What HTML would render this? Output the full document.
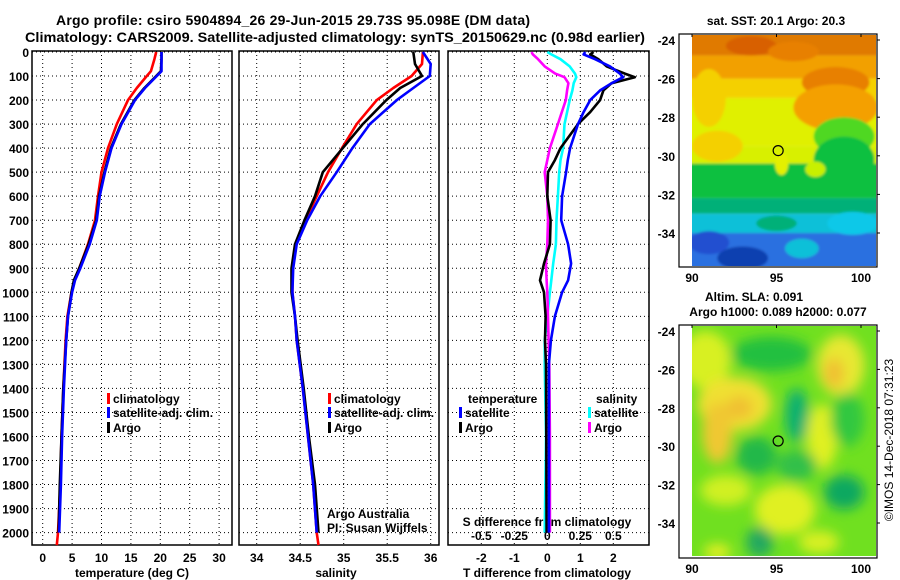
<!DOCTYPE html>
<html><head><meta charset="utf-8"><style>
body{margin:0;background:#fff;width:900px;height:580px;overflow:hidden}
svg{display:block;font-family:"Liberation Sans",sans-serif}
.b{font-weight:bold;font-size:12px}
</style></head><body>
<svg id="s" width="900" height="580" xmlns="http://www.w3.org/2000/svg">
<defs>
<filter id="bl" x="-20%" y="-20%" width="140%" height="140%"><feGaussianBlur stdDeviation="6"/></filter>
<filter id="bl2"><feGaussianBlur stdDeviation="1.2"/></filter>
<clipPath id="c1"><rect x="692" y="35" width="184" height="231"/></clipPath>
<clipPath id="c2"><rect x="692" y="326" width="184" height="230"/></clipPath>
</defs>
<text x="293" y="25" text-anchor="middle" font-size="14" font-weight="bold" textLength="474">Argo profile: csiro 5904894_26 29-Jun-2015 29.73S 95.098E (DM data)</text>
<text x="335" y="42" text-anchor="middle" font-size="14" font-weight="bold" textLength="620" lengthAdjust="spacingAndGlyphs">Climatology: CARS2009. Satellite-adjusted climatology: synTS_20150629.nc (0.98d earlier)</text>
<g id="maps"></g>
<g id="plots"></g>
</svg>
<script>
const depthT=[0,30,80,100,150,200,300,400,500,600,700,800,900,950,1000,1100,1200,1400,1600,1800,2000];
const climT=[19.3,19.0,18.4,17.7,16.0,14.5,12.6,11.1,10.0,9.4,8.9,7.7,6.2,5.4,4.9,4.2,3.9,3.5,3.2,3.0,2.6];
const satT=[20.2,20.2,20.2,19.4,17.4,15.7,13.4,11.7,10.6,9.7,9.2,8.0,6.4,5.5,5.0,4.3,4.0,3.6,3.3,3.1,2.8];
const argoT=[20.2,20.2,20.1,19.3,17.3,15.6,13.3,11.6,10.5,9.6,9.1,7.8,6.2,5.3,4.9,4.3,4.0,3.5,3.2,2.9,2.7];
const depthS=[0,50,100,150,200,300,400,500,600,700,800,900,1000,1100,1200,1400,1600,1800,2000];
const climS=[35.91,35.90,35.78,35.57,35.38,35.15,34.98,34.82,34.69,34.56,34.45,34.41,34.41,34.44,34.46,34.53,34.59,34.65,34.69];
const satS=[35.91,36.0,35.99,35.8,35.61,35.3,35.1,34.92,34.73,34.58,34.46,34.42,34.41,34.44,34.46,34.53,34.59,34.65,34.69];
const argoS=[35.8,35.82,35.9,35.65,35.49,35.22,34.99,34.76,34.67,34.55,34.44,34.40,34.40,34.44,34.47,34.54,34.60,34.67,34.71];
const depthD=[0,10,30,60,90,105,130,160,200,250,300,400,450,500,600,700,800,880,950,1000,1100,1200,1300,1600,2000];
const dTsat=[1.15,1.1,1.45,1.9,2.2,2.3,1.95,1.6,1.3,1.1,0.93,0.69,0.62,0.57,0.45,0.42,0.63,0.72,0.63,0.45,0.23,0.11,0.05,0.05,0.05];
const dTargo=[1.4,1.3,1.55,1.8,2.35,2.65,1.95,1.7,1.6,1.3,0.93,0.4,0.23,0.02,0,0.1,0.08,-0.1,-0.22,-0.1,-0.05,-0.07,-0.04,-0.03,-0.02];
const dSsat=[0,0.03,0.1,0.17,0.21,0.22,0.2,0.19,0.17,0.15,0.13,0.12,0.1,0.09,0.08,0.07,0.065,0.045,0.03,0.02,0,-0.02,-0.02,-0.01,-0.02];
const dSargo=[-0.12,-0.11,-0.07,-0.02,0.06,0.13,0.16,0.15,0.14,0.11,0.08,0.02,0,-0.02,0,0.005,0,-0.01,-0.005,0,0.005,0.01,0.015,0.02,0.02];
const tTicks=[0,5,10,15,20,25,30];
const sTicks=[34,34.5,35,35.5,36];
const dTticks=[-2,-1,0,1,2];
const dSticks=[-0.5,-0.25,0,0.25,0.5];
const depthTicks=[0,100,200,300,400,500,600,700,800,900,1000,1100,1200,1300,1400,1500,1600,1700,1800,1900,2000];

const NS='http://www.w3.org/2000/svg';
const P=document.getElementById('plots');
function mk(tag,at,parent){const e=document.createElementNS(NS,tag);for(const k in at)e.setAttribute(k,at[k]);(parent||P).appendChild(e);return e;}
const yD=d=>52+0.2403*d;
const xT=t=>42.7+5.88*t;
const xS=s=>256.7+87*(s-34);
const xdT=t=>547.3+33*t;
const xdS=s=>547.3+132*s;
const panels=[[32,232],[239,439],[448,649]];
const TOP=51,BOT=545;
function vgrid(xs){xs.forEach(x=>{const l=mk('line',{x1:x,x2:x,y1:TOP,y2:BOT,stroke:'#000','stroke-dasharray':'1 3','stroke-width':1});});}
panels.forEach(([a,b],i)=>{
  depthTicks.forEach(d=>{const l=mk('line',{x1:a,x2:b,y1:yD(d),y2:yD(d),stroke:'#000','stroke-dasharray':'1 3'});});
});
vgrid(tTicks.map(xT));vgrid(sTicks.map(xS));vgrid(dTticks.map(xdT));
panels.forEach(([a,b],i)=>{const r=mk('rect',{x:a,y:TOP,width:b-a,height:BOT-TOP,fill:'none',stroke:'#000','stroke-width':1.5});});
depthTicks.forEach(d=>{const t=mk('text',{x:29,y:yD(d)+5,'text-anchor':'end',class:'b'});t.textContent=d;});
function xlabels(ticks,fx,y,name,fmt){ticks.forEach(v=>{const t=mk('text',{x:fx(v),y:y,'text-anchor':'middle',class:'b'});t.textContent=fmt?fmt(v):v;});}
xlabels(tTicks,xT,562,'temperature-tick-label');
xlabels(sTicks,xS,562,'salinity-tick-label');
xlabels(dTticks,xdT,562,'t-diff-tick-label');
xlabels(dSticks,xdS,540,'s-diff-tick-label');
function lab(x,y,txt,name,cls,anchor){const t=mk('text',{x:x,y:y,'text-anchor':anchor||'middle',class:cls||'b'});t.textContent=txt;return t;}
lab(132,577,'temperature (deg C)','x-axis-title-temperature');
lab(336,577,'salinity','x-axis-title-salinity');
lab(547,577,'T difference from climatology','x-axis-title-t-diff');
lab(547,526,'S difference from climatology','x-axis-title-s-diff');
function line(xs,ds,fx,color,name,w){const pts=xs.map((v,i)=>fx(v).toFixed(1)+','+yD(ds[i]).toFixed(1)).join(' ');const p=mk('polyline',{points:pts,fill:'none',stroke:color,'stroke-width':w||2.6,'stroke-linejoin':'round'});}
line(climT.concat([2.4]),depthT.concat([2052]),xT,'#f00','climatology-temperature-line');
line(argoT,depthT,xT,'#000','argo-temperature-line');
line(satT,depthT,xT,'#00f','satellite-temperature-line');
line(climS.concat([34.71]),depthS.concat([2052]),xS,'#f00','climatology-salinity-line');
line(argoS,depthS,xS,'#000','argo-salinity-line');
line(satS,depthS,xS,'#00f','satellite-salinity-line');
line(dSsat,depthD,xdS,'#0ff','satellite-salinity-diff-line');
line(dSargo,depthD,xdS,'#f0f','argo-salinity-diff-line');
line(dTargo,depthD,xdT,'#000','argo-temperature-diff-line');
line(dTsat,depthD,xdT,'#00f','satellite-temperature-diff-line');
function leg(x,y,color,txt,name){const r=mk('rect',{x:x,y:y-10,width:3,height:11,fill:color});lab(x+6,y,txt,name,'b','start');}
leg(107,403,'#f00','climatology','legend-climatology');
leg(107,417,'#00f','satellite-adj. clim.','legend-satellite');
leg(107,432,'#000','Argo','legend-argo');
leg(328,403,'#f00','climatology','legend-climatology-2');
leg(328,417,'#00f','satellite-adj. clim.','legend-satellite-2');
leg(328,432,'#000','Argo','legend-argo-2');
lab(468,403,'temperature','legend-temperature-header','b','start');
leg(459,417,'#00f','satellite','legend-t-satellite');
leg(459,432,'#000','Argo','legend-t-argo');
lab(596,403,'salinity','legend-salinity-header','b','start');
leg(588,417,'#0ff','satellite','legend-s-satellite');
leg(588,432,'#f0f','Argo','legend-s-argo');
lab(327,518,'Argo Australia','credit-argo-australia','', 'start').setAttribute('font-size','12');
lab(327,532,'PI: Susan Wijffels','credit-pi','', 'start').setAttribute('font-size','12');

const M=document.getElementById('maps');
function mm(tag,at,parent){return mk(tag,at,parent||M);}
const mx=lon=>692+16.9*(lon-90);
const my1=lat=>40+19.3*(-24-lat);
const my2=lat=>331+19.2*(-24-lat);
const g1=mm('g',{'clip-path':'url(#c1)'});
const bands=[[-23.5,-24.8,'#e07a00'],[-24.8,-26,'#f2a000'],[-26,-27,'#f4d000'],[-27,-29.5,'#e0f000'],[-29.5,-30.4,'#d8f000'],[-30.4,-32.2,'#10c040'],[-32.2,-33,'#00b078'],[-33,-34,'#10c0d8'],[-34,-36,'#2a70e0']];
const g1b=mm('g',{filter:'url(#bl2)'},g1);
bands.forEach(b=>mm('rect',{x:680,y:my1(b[0]),width:210,height:my1(b[1])-my1(b[0]),fill:b[2]},g1b));
[[93.5,-24.3,1.5,0.5,'#d86000'],[96,-24.6,1.5,0.5,'#e88000'],[98.5,-26.2,2,0.8,'#e88000'],[98.5,-27.5,2.5,1.2,'#f4a000'],[91,-27,1,1.5,'#f4d000'],[91.5,-29.5,1.5,0.8,'#f4d000'],[99,-29,1.8,1,'#50d820'],[99,-30.2,1.8,1.2,'#10c040'],[95.3,-30.4,0.4,0.6,'#e4f000'],[97.3,-30.7,0.6,0.4,'#c8f000'],[99.5,-33.5,1.5,0.6,'#10c8e8'],[93,-35.3,1.5,0.6,'#1040b0'],[91,-34.5,1.2,0.6,'#2050d0'],[95,-33.5,1.2,0.4,'#00b078'],[96.5,-34.8,1,0.5,'#10c0d8']].forEach(e=>mm('ellipse',{cx:mx(e[0]),cy:my1(e[1]),rx:e[2]*16.9,ry:e[3]*19.3,fill:e[4]},g1b));
const g2=mm('g',{'clip-path':'url(#c2)'});
mm('rect',{x:680,y:320,width:210,height:250,fill:'#70e020'},g2);
const g2b=mm('g',{filter:'url(#bl)'},g2);
[[90.8,-25.5,1.5,1.5,'#d8f020'],[92.5,-27.8,2.2,1.4,'#f0e030'],[91.5,-29.3,0.9,1.6,'#f0c830'],[92.8,-28,0.8,0.6,'#f0c030'],[94.7,-25.2,2.4,0.9,'#20c040'],[96.2,-28.4,0.7,1.4,'#10b070'],[98.8,-25.8,1.4,1.6,'#e8e830'],[98.4,-26.2,0.6,0.8,'#f0c030'],[97.7,-29.5,0.9,1.7,'#e0f020'],[99.2,-28.6,1,1.4,'#30c840'],[93.8,-30.5,1.2,1,'#20b848'],[96.2,-31,1.2,0.8,'#30c048'],[95.5,-33.3,1.8,1.3,'#e0f020'],[92,-32.3,1.5,0.8,'#d0f020'],[99,-32.4,1.2,0.9,'#10a860'],[94,-35,0.8,0.8,'#20a860'],[91.5,-35.5,0.8,0.4,'#e8f020'],[97.5,-35,1.2,0.6,'#d8f020']].forEach(e=>mm('ellipse',{cx:mx(e[0]),cy:my2(e[1]),rx:e[2]*16.9,ry:e[3]*19.2,fill:e[4]},g2b));
[[679,34,my1],[679,325,my2]].forEach(([x0,y0,fy],k)=>{
  const r=mm('rect',{x:x0,y:y0,width:198,height:233,fill:'none',stroke:'#000','stroke-width':1.2});
  [-24,-26,-28,-30,-32,-34].forEach(lat=>{const t=mm('text',{x:675,y:fy(lat)+5,'text-anchor':'end',class:'b'});t.textContent=lat;
    mm('line',{x1:877,x2:880,y1:fy(lat),y2:fy(lat),stroke:'#000'});});
  [90,95,100].forEach(lon=>{const t=mm('text',{x:mx(lon),y:y0+248,'text-anchor':'middle',class:'b'});t.textContent=lon;
    mm('line',{x1:mx(lon),x2:mx(lon),y1:y0,y2:y0+3,stroke:'#000'});});
  const c=mm('circle',{cx:mx(95.098),cy:fy(-29.73),r:5,fill:'none',stroke:'#000','stroke-width':1.2});
});
function mt(x,y,t,n,extra){const e=mm('text',Object.assign({x:x,y:y,'text-anchor':'middle',class:'b'},extra||{}));e.textContent=t;return e;}
mt(776,25,'sat. SST: 20.1 Argo: 20.3','sst-map-title');
mt(754,301,'Altim. SLA: 0.091','sla-map-title-1');
mt(778,316,'Argo h1000: 0.089 h2000: 0.077','sla-map-title-2');
mt(0,0,'©IMOS 14-Dec-2018 07:31:23','imos-timestamp',{transform:'translate(893,440) rotate(-90)',class:'','font-size':'12'});
</script>
</body></html>
